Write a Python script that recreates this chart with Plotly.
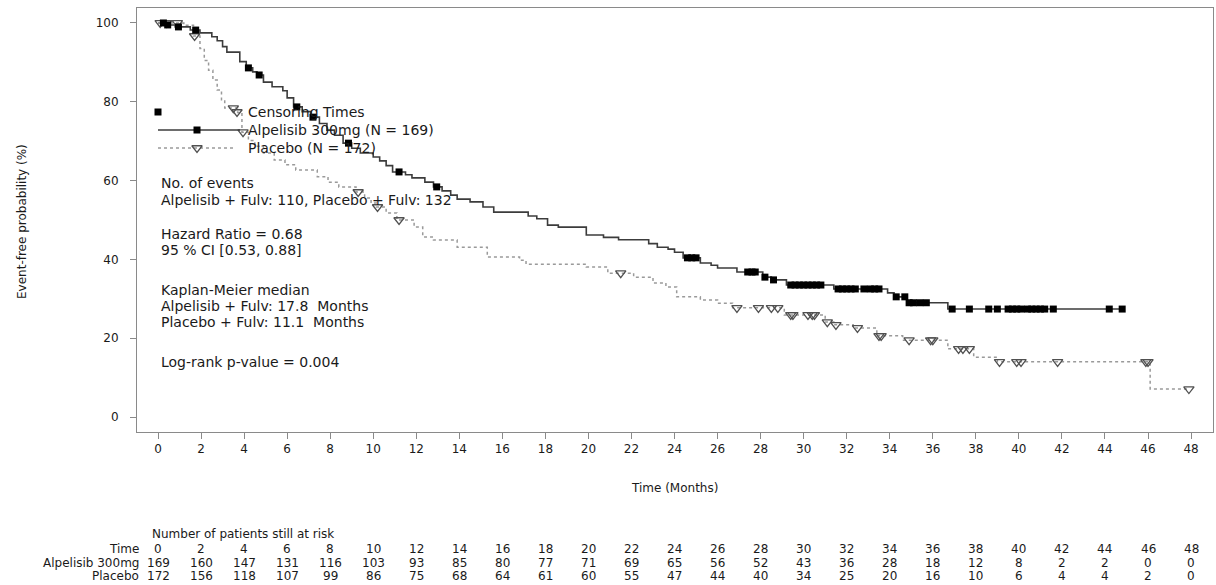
import numpy as np
import plotly.graph_objects as go

W, H = 1216, 585
PL, PR, PT, PB = 137, 1213, 8, 432  # plot-area box (page pixels)
FONT = "DejaVu Sans"

# Kaplan-Meier step knots: time (months) and event-free probability (%) after each drop
alp_t = [0, 0.35, 0.8, 1.5, 1.95, 2.5, 2.75, 3.0, 3.2, 3.8, 4.1, 4.4, 4.6, 4.9, 5.3, 5.8,
         6.0, 6.3, 6.7, 7.1, 7.5, 7.85, 8.2, 8.6, 9.0, 9.4, 10.0, 10.3, 10.6, 10.9, 11.5,
         11.8, 12.4, 12.8, 13.2, 13.6, 13.9, 14.5, 15.1, 15.6, 17.2, 17.6, 18.1, 18.6,
         19.9, 20.7, 21.4, 22.8, 23.2, 23.7, 24.0, 24.4, 25.2, 25.7, 26.0, 26.9, 28.1,
         28.5, 29.2, 31.4, 33.9, 34.2, 34.8, 36.7]
alp_s = [100, 99.5, 99.0, 98.2, 97.5, 96.5, 95.5, 94.0, 92.6, 90.2, 88.6, 87.6, 86.8, 85.0,
         83.8, 82.8, 81.0, 78.7, 77.5, 76.1, 74.5, 72.8, 71.5, 69.5, 68.2, 67.0, 66.0, 65.0,
         63.8, 62.2, 61.5, 60.7, 59.6, 58.4, 57.4, 56.3, 55.3, 54.6, 53.3, 52.0, 51.0, 50.3,
         48.7, 48.2, 46.2, 45.6, 45.0, 44.0, 43.1, 42.6, 41.8, 40.4, 39.1, 38.5, 37.8, 36.8,
         35.5, 34.8, 33.5, 32.5, 31.5, 30.5, 29.0, 27.4]
alp_end = 44.8
alp_cens = [0.25, 0.45, 0.95, 1.75, 4.2, 4.7, 6.45, 7.2, 8.85, 11.2, 12.95, 24.6, 24.8,
            25.0, 27.4, 27.6, 27.75, 28.2, 28.6, 29.4, 29.6, 29.8, 30.0, 30.2, 30.4, 30.6,
            30.8, 31.6, 31.8, 32.0, 32.2, 32.4, 32.8, 33.1, 33.3, 33.5, 34.3, 34.7, 34.9,
            35.1, 35.4, 35.7, 36.9, 37.7, 38.6, 39.0, 39.5, 39.7, 39.9, 40.1, 40.4, 40.6,
            40.8, 41.0, 41.2, 41.6, 44.2, 44.8]

pbo_t = [0, 1.2, 1.65, 1.95, 2.15, 2.35, 2.55, 2.75, 2.95, 3.1, 3.7, 3.9, 4.2, 4.5, 4.9,
         5.4, 5.9, 6.4, 7.4, 7.9, 8.4, 9.2, 9.6, 9.9, 10.15, 10.6, 11.1, 11.9, 12.3, 12.8,
         13.9, 15.3, 16.8, 17.1, 19.9, 20.9, 22.1, 23.0, 23.6, 24.1, 25.2, 26.0, 26.7, 29.1,
         31.0, 31.4, 32.3, 33.4, 34.6, 36.7, 37.9, 39.0, 46.1]
pbo_s = [100, 99.4, 96.7, 93.5, 90.5, 88.0, 85.5, 83.0, 80.5, 78.4, 77.3, 72.3, 70.2, 68.7,
         67.0, 65.2, 64.0, 62.7, 61.0, 59.6, 58.4, 57.1, 55.6, 54.3, 53.3, 51.8, 50.0, 48.2,
         45.7, 44.9, 43.1, 40.6, 39.8, 38.8, 38.1, 36.5, 35.5, 34.0, 33.0, 30.5, 29.7, 28.9,
         27.7, 25.9, 24.1, 23.4, 22.6, 20.6, 19.5, 17.3, 15.2, 14.0, 7.1]
pbo_end = 47.9
pbo_cens = [0.1, 0.4, 0.9, 1.7, 3.5, 3.95, 9.3, 10.2, 11.2, 21.5, 26.9, 27.9, 28.5, 28.8,
            29.4, 29.5, 30.2, 30.4, 30.5, 31.1, 31.5, 32.5, 33.5, 33.6, 34.9, 35.9, 36.0,
            37.2, 37.4, 37.7, 39.1, 39.9, 40.1, 41.8, 45.9, 46.0, 47.9]

# Number at risk table
risk_times = list(range(0, 50, 2))
risk_alp = [169, 160, 147, 131, 116, 103, 93, 85, 80, 77, 71, 69, 65, 56, 52, 43, 36, 28,
            18, 12, 8, 2, 2, 0, 0]
risk_pbo = [172, 156, 118, 107, 99, 86, 75, 68, 64, 61, 60, 55, 47, 44, 40, 34, 25, 20,
            16, 10, 6, 4, 4, 2, 0]

x_ticks = list(range(0, 50, 2))
y_ticks = [0, 20, 40, 60, 80, 100]

ALP_LINE = "#3c3c3c"
PBO_LINE = "#9a9a9a"
TRI_COL = "#505050"
FRAME = "#8a8a8a"
TXT = "#1a1a1a"


def surv_at(ts, ss, t):
    idx = np.searchsorted(np.asarray(ts), t, side="right") - 1
    return float(np.asarray(ss)[idx])


def px(xp):
    return (xp - PL) / (PR - PL)


def py(yp):
    return (PB - yp) / (PB - PT)


fig = go.Figure()

# survival curves
fig.add_trace(go.Scatter(x=alp_t + [alp_end], y=alp_s + [alp_s[-1]], mode="lines",
                         line=dict(color=ALP_LINE, width=1.6, shape="hv"),
                         hoverinfo="skip"))
fig.add_trace(go.Scatter(x=pbo_t + [pbo_end], y=pbo_s + [pbo_s[-1]], mode="lines",
                         line=dict(color=PBO_LINE, width=1.5, shape="hv", dash="dot"),
                         hoverinfo="skip"))

# censoring marks
fig.add_trace(go.Scatter(x=pbo_cens, y=[surv_at(pbo_t, pbo_s, t) for t in pbo_cens],
                         mode="markers",
                         marker=dict(symbol="triangle-down-open", size=9, color=TRI_COL,
                                     line=dict(width=1.3, color=TRI_COL)),
                         hoverinfo="skip"))
fig.add_trace(go.Scatter(x=alp_cens, y=[surv_at(alp_t, alp_s, t) for t in alp_cens],
                         mode="markers",
                         marker=dict(symbol="square", size=7, color="#000000"),
                         hoverinfo="skip"))

# legend glyphs drawn on an overlay axis measured in page pixels
leg = dict(xaxis="x2", yaxis="y2", hoverinfo="skip")
fig.add_trace(go.Scatter(x=[158], y=[112], mode="markers",
                         marker=dict(symbol="square", size=7, color="#000000"), **leg))
fig.add_trace(go.Scatter(x=[237], y=[112], mode="markers",
                         marker=dict(symbol="triangle-down-open", size=9, color=TRI_COL,
                                     line=dict(width=1.3, color=TRI_COL)), **leg))
fig.add_trace(go.Scatter(x=[158, 240], y=[130, 130], mode="lines",
                         line=dict(color=ALP_LINE, width=1.6), **leg))
fig.add_trace(go.Scatter(x=[197], y=[130], mode="markers",
                         marker=dict(symbol="square", size=7, color="#000000"), **leg))
fig.add_trace(go.Scatter(x=[158, 236], y=[148, 148], mode="lines",
                         line=dict(color=PBO_LINE, width=1.5, dash="dot"), **leg))
fig.add_trace(go.Scatter(x=[197], y=[148], mode="markers",
                         marker=dict(symbol="triangle-down-open", size=9, color=TRI_COL,
                                     line=dict(width=1.3, color=TRI_COL)), **leg))

ann = []


def text(x, y, s, size=14, xanchor="left", xref="paper", angle=0):
    ann.append(dict(x=x, y=y, xref=xref, yref="paper", text=s, showarrow=False,
                    xanchor=xanchor, yanchor="middle", textangle=angle,
                    font=dict(family=FONT, size=size, color=TXT)))


# legend labels and statistics
text(px(246), py(112), "Censoring Times")
text(px(246), py(130), "Alpelisib 300mg (N = 169)")
text(px(246), py(148), "Placebo (N = 172)")
text(px(159), py(183), "No. of events")
text(px(159), py(200), "Alpelisib + Fulv: 110, Placebo + Fulv: 132")
text(px(159), py(234), "Hazard Ratio = 0.68")
text(px(159), py(250), "95 % CI [0.53, 0.88]")
text(px(159), py(290), "Kaplan-Meier median")
text(px(159), py(306), "Alpelisib + Fulv: 17.8 \u00a0Months")
text(px(159), py(322), "Placebo + Fulv: 11.1 \u00a0Months")
text(px(159), py(362), "Log-rank p-value = 0.004")

# axis titles
text(24, py(488), "Time (Months)", size=12, xanchor="center", xref="x")
text(px(22), py(222), "Event-free probability (%)", size=12, xanchor="center", angle=-90)

# number-at-risk table
text(px(150), py(534), "Number of patients still at risk", size=12)
row_y = [549, 563, 576]
for lab, yy in zip(["Time", "Alpelisib 300mg", "Placebo"], row_y):
    text(px(141), py(yy), lab, size=12, xanchor="right")
for i, t in enumerate(risk_times):
    text(t, py(row_y[0]), str(t), size=12, xanchor="center", xref="x")
    text(t, py(row_y[1]), str(risk_alp[i]), size=12, xanchor="center", xref="x")
    text(t, py(row_y[2]), str(risk_pbo[i]), size=12, xanchor="center", xref="x")

axis_common = dict(showline=True, linecolor=FRAME, linewidth=1, mirror=True,
                   ticks="outside", ticklen=6, tickcolor=FRAME, tickwidth=1,
                   showgrid=False, zeroline=False,
                   tickfont=dict(family=FONT, size=12, color=TXT))

fig.update_layout(
    width=W, height=H, autosize=False,
    margin=dict(l=PL, r=W - PR, t=PT, b=H - PB),
    paper_bgcolor="white", plot_bgcolor="white",
    showlegend=False,
    xaxis=dict(range=[-0.976, 49.02], tickvals=x_ticks, **axis_common),
    yaxis=dict(range=[-3.8, 103.8], tickvals=y_ticks, ticklabelstandoff=9, **axis_common),
    xaxis2=dict(range=[PL, PR], overlaying="x", visible=False, fixedrange=True),
    yaxis2=dict(range=[PB, PT], overlaying="y", visible=False, fixedrange=True),
    annotations=ann,
)

fig.write_html("out.html")
